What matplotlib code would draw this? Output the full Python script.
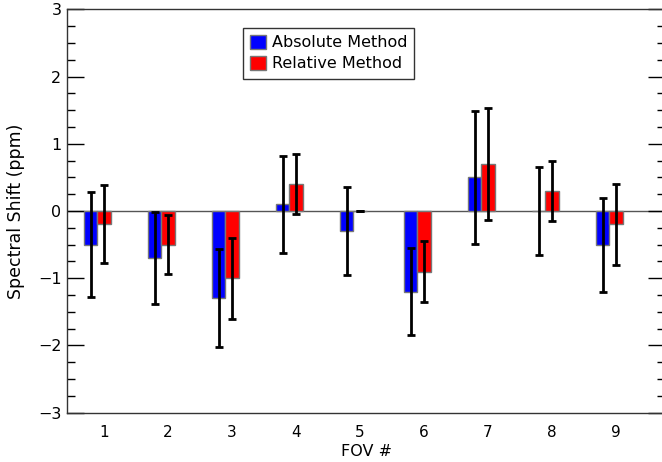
import numpy as np
import matplotlib
matplotlib.use("Agg")
import matplotlib.pyplot as plt
from matplotlib.patches import Patch
from matplotlib.ticker import MultipleLocator

# values
fov = [1, 2, 3, 4, 5, 6, 7, 8, 9]
absolute = [-0.5, -0.7, -1.3, 0.1, -0.3, -1.2, 0.5, 0.0, -0.5]
absolute_err = [0.78, 0.68, 0.73, 0.72, 0.65, 0.65, 0.99, 0.66, 0.70]
relative = [-0.2, -0.5, -1.0, 0.4, 0.0, -0.9, 0.7, 0.3, -0.2]
relative_err = [0.58, 0.44, 0.60, 0.45, 0.0, 0.45, 0.83, 0.45, 0.60]

plt.rcParams['font.family'] = ['DejaVu Sans']

fig = plt.figure(figsize=(6.62, 4.62), dpi=100)
# right axis sits just past the image edge, as in the reference
ax = fig.add_axes([67 / 662, 49.3 / 462, 598 / 662, 403.4 / 462])

x = np.array(fov, dtype=float)
w = 0.21
ax.bar(x - w, absolute, width=w, color='#0000ff', edgecolor='#777777', linewidth=1, zorder=2)
ax.bar(x, relative, width=w, color='#ff0000', edgecolor='#777777', linewidth=1, zorder=2)
ax.errorbar(x - w, absolute, yerr=absolute_err, fmt='none', ecolor='black',
            elinewidth=2, capsize=3, capthick=2, zorder=3)
ax.errorbar(x, relative, yerr=relative_err, fmt='none', ecolor='black',
            elinewidth=2, capsize=3, capthick=2, zorder=3)
ax.axhline(0, color='#555555', linewidth=1, zorder=1)

ax.set_xlim(0.422, 0.422 + 598 / 64)
ax.set_ylim(-3, 3)
ax.set_xticks(fov)
ax.set_xticklabels([str(i) for i in fov])
ax.tick_params(axis='x', length=0, pad=9, labelsize=11)
ax.yaxis.set_major_locator(MultipleLocator(1))
ax.yaxis.set_minor_locator(MultipleLocator(0.25))
ax.tick_params(axis='y', which='major', direction='in', length=12, width=1,
               left=True, right=True, labelsize=11.5, pad=4)
ax.tick_params(axis='y', which='minor', direction='in', length=6, width=1,
               left=True, right=True)
for s in ax.spines.values():
    s.set_color('#333333')
    s.set_linewidth(1)

ax.set_xlabel('FOV #', fontsize=11.5, labelpad=3)
ax.set_ylabel('Spectral Shift (ppm)', fontsize=12.5, labelpad=9)

handles = [Patch(facecolor='#0000ff', edgecolor='#777777', label='Absolute Method'),
           Patch(facecolor='#ff0000', edgecolor='#777777', label='Relative Method')]
leg = ax.legend(handles=handles, loc='upper left', bbox_to_anchor=(0.294, 0.954),
                borderaxespad=0, fancybox=False, edgecolor='black', fontsize=11.5,
                handlelength=1.0, handleheight=0.95, handletextpad=0.35,
                labelspacing=0.35, borderpad=0.45)
leg.get_frame().set_linewidth(1)

fig.savefig('out.png', dpi=100)
